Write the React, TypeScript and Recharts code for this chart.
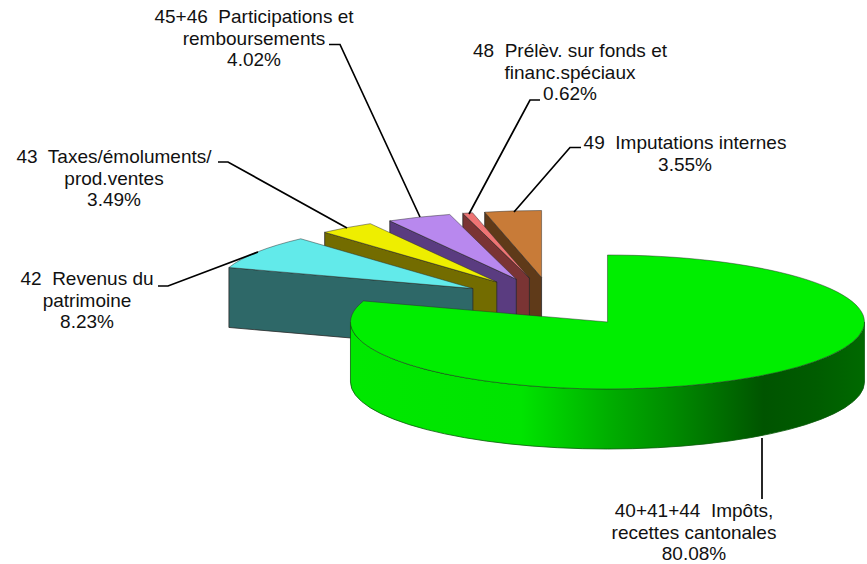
import { PieChart, Pie } from "recharts";

// drawing order: back slices first, the big slice last (counter-clockwise from 12 o'clock)
const categories = [
  "49  Imputations internes",
  "48  Prélèv. sur fonds et|financ.spéciaux",
  "45+46  Participations et|remboursements",
  "43  Taxes/émoluments/|prod.ventes",
  "42  Revenus du|patrimoine",
  "40+41+44  Impôts,|recettes cantonales",
];
const shares = [3.55, 0.62, 4.02, 3.49, 8.23, 80.08];

const topColors = ["#C87B38", "#EE7474", "#B888EE", "#EEEE00", "#62EAEA", "#00EE00"];
const sideColors = ["#5F3A19", "#7A3434", "#5A3C80", "#736C00", "#2E6868", "url(#wallGreen)"];

// where each label sits: text centre, first baseline, leader line
const labelLayout = [
  { x: 685, y: 149, line: "581,147.5 570,147.5 514,212" },
  { x: 570, y: 57, line: "540,100 530,100 469,214" },
  { x: 254, y: 23, line: "329,44.5 340,44.5 420,217" },
  { x: 114, y: 163, line: "218,162 228,162 347,228" },
  { x: 87, y: 285, line: "158,286 168,286 258,252" },
  { x: 694, y: 517, line: "762,438 762,499" },
];

const data = categories.map((name, i) => ({ name, value: shares[i] }));

const RAD = Math.PI / 180;
const TILT = 67 / 257; // ellipse ratio
const EXPLODE = 0.368;
const DEPTH = 60;

const Slice3D = (props: any) => {
  const { cx, cy, outerRadius: rx, startAngle, endAngle, midAngle, index } = props;
  const ry = rx * TILT;
  const ox = cx + EXPLODE * rx * Math.cos(midAngle * RAD);
  const oy = cy - EXPLODE * ry * Math.sin(midAngle * RAD);
  const pt = (a: number, dy = 0) => [ox + rx * Math.cos(a * RAD), oy - ry * Math.sin(a * RAD) + dy].join(" ");
  const large = endAngle - startAngle > 180 ? 1 : 0;
  const edge = "#2a2a2a";

  const top = `M${ox} ${oy} L${pt(startAngle)} A${rx} ${ry} 0 ${large} 0 ${pt(endAngle)} Z`;
  // cut face turned to the viewer
  const face = Math.cos(endAngle * RAD) < -0.001
    ? `M${ox} ${oy} L${pt(endAngle)} L${pt(endAngle, DEPTH)} L${ox} ${oy + DEPTH} Z`
    : null;
  // outer wall, front half of the ellipse only
  const wallFrom = Math.max(startAngle, 180);
  const wallTo = Math.min(endAngle, 360);
  const wall = wallTo > wallFrom
    ? `M${pt(wallFrom)} A${rx} ${ry} 0 0 0 ${pt(wallTo)} L${pt(wallTo, DEPTH)} A${rx} ${ry} 0 0 1 ${pt(wallFrom, DEPTH)} Z`
    : null;

  return (
    <g>
      {wall && <path d={wall} fill={sideColors[index]} stroke="#0a5a0a" strokeWidth={0.8} />}
      {face && <path d={face} fill={sideColors[index]} stroke={edge} strokeWidth={0.8} />}
      <path d={top} fill={topColors[index]} stroke={edge} strokeOpacity={0.6} strokeWidth={0.8} />
    </g>
  );
};

const renderLabel = (props: any) => {
  const { index } = props;
  const { x, y, line } = labelLayout[index];
  const rows = [...categories[index].split("|"), shares[index].toFixed(2) + "%"];
  return (
    <g>
      <polyline points={line} fill="none" stroke="#000" strokeWidth={1.7} />
      <text x={x} y={y} textAnchor="middle" fontFamily="'Liberation Sans', Arial, sans-serif" fontSize={19} fill="#111" style={{ whiteSpace: "pre" }}>
        {rows.map((r, i) => (
          <tspan key={i} x={x} y={y + i * 21.7}>{r}</tspan>
        ))}
      </text>
    </g>
  );
};

export default function App() {
  return (
    <div style={{ position: "absolute", left: 0, top: 0, width: 867, height: 564, background: "#fff" }}>
      <PieChart width={867} height={564} margin={{ top: 0, right: 0, bottom: 0, left: 0 }}>
        <defs>
          <linearGradient id="wallGreen" gradientUnits="userSpaceOnUse" x1={351} y1={0} x2={867} y2={0}>
            <stop offset="0" stopColor="#00E800" />
            <stop offset="0.33" stopColor="#00E400" />
            <stop offset="0.5" stopColor="#00AE00" />
            <stop offset="0.62" stopColor="#008C00" />
            <stop offset="0.8" stopColor="#005400" />
            <stop offset="0.9" stopColor="#005C00" />
            <stop offset="1" stopColor="#006A00" />
          </linearGradient>
        </defs>
        <Pie
          data={data}
          dataKey="value"
          nameKey="name"
          cx={552.1}
          cy={302}
          outerRadius={257}
          startAngle={90}
          endAngle={450}
          shape={Slice3D}
          label={renderLabel}
          labelLine={false}
          rootTabIndex={-1}
          isAnimationActive={false}
        />
      </PieChart>
    </div>
  );
}
